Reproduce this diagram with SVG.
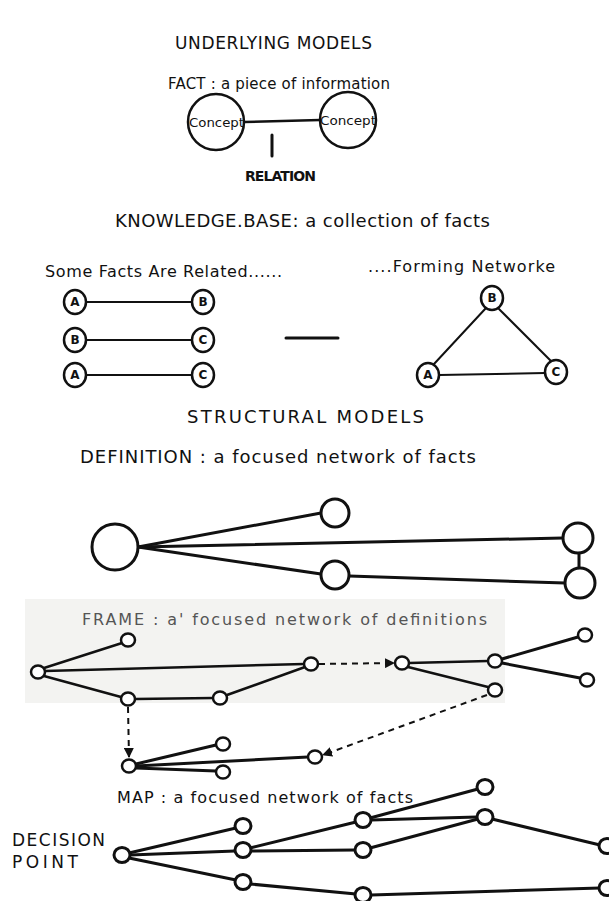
<svg xmlns="http://www.w3.org/2000/svg" width="609" height="901" viewBox="0 0 609 901">
  <style>
    .t { font-family: "DejaVu Sans", "Liberation Sans", sans-serif; fill: #111; }
    .h { font-size: 18px; }
    .s { font-size: 16px; }
    .lbl { font-size: 12px; font-weight: bold; text-anchor: middle; }
    .ln { stroke: #111; stroke-width: 2.5; fill: none; stroke-linecap: round; }
    .thin { stroke-width: 2; }
    .thick { stroke-width: 3; }
    .nd { fill: #fff; stroke: #111; stroke-width: 2.5; }
    .open { fill: none; }
    .big { stroke-width: 3; }
    .dash { stroke-dasharray: 6 5; stroke-width: 2; stroke-linecap: butt; }
  </style>
  <defs>
    <marker id="arrow" viewBox="0 0 10 10" refX="9" refY="5" markerWidth="5" markerHeight="5" orient="auto">
      <path d="M0,0 L10,5 L0,10 z" fill="#111"/>
    </marker>
  </defs>
  <rect width="609" height="901" fill="#fff"/>
  <!-- faint band behind the frame section -->
  <rect x="25" y="599" width="480" height="104" fill="#f3f3f1"/>

  <!-- headings -->
  <g id="headings">
    <text class="t" font-size="17" x="175" y="49" textLength="197" lengthAdjust="spacing">UNDERLYING MODELS</text>
    <text class="t" font-size="15" x="168" y="89" textLength="222" lengthAdjust="spacing">FACT : a piece of information</text>
    <text class="t" font-size="14" x="245" y="181" textLength="71" lengthAdjust="spacing" font-weight="bold">RELATION</text>
    <text class="t h" x="115" y="227" textLength="375" lengthAdjust="spacing">KNOWLEDGE.BASE: a collection of facts</text>
    <text class="t s" x="45" y="277" textLength="237" lengthAdjust="spacing">Some Facts Are Related......</text>
    <text class="t s" x="368" y="272" textLength="187" lengthAdjust="spacing">....Forming Networke</text>
    <text class="t h" x="187" y="423" textLength="237" lengthAdjust="spacing">STRUCTURAL MODELS</text>
    <text class="t h" x="80" y="463" textLength="396" lengthAdjust="spacing">DEFINITION : a focused network of facts</text>
    <text class="t s" x="82" y="625" textLength="405" lengthAdjust="spacing" style="fill:#555">FRAME : a' focused network of definitions</text>
    <text class="t s" x="117" y="803" textLength="296" lengthAdjust="spacing">MAP : a focused network of facts</text>
    <text class="t" font-size="17" x="12" y="846" textLength="93" lengthAdjust="spacing">DECISION</text>
    <text class="t" font-size="17" x="12" y="868" textLength="66" lengthAdjust="spacing">POINT</text>
  </g>

  <!-- connectors -->
  <g id="connectors">
    <!-- fact -->
    <line class="ln" x1="244" y1="122" x2="320" y2="120"/>
    <line class="ln thick" x1="272" y1="135" x2="272" y2="156"/>
    <!-- related facts -->
    <line class="ln thin" x1="86" y1="302" x2="192" y2="302"/>
    <line class="ln thin" x1="86" y1="340" x2="192" y2="340"/>
    <line class="ln thin" x1="86" y1="375" x2="192" y2="375"/>
    <line class="ln thick" x1="286" y1="338" x2="338" y2="338"/>
    <!-- network triangle -->
    <line class="ln thin" x1="486" y1="308" x2="434" y2="364"/>
    <line class="ln thin" x1="498" y1="308" x2="551" y2="361"/>
    <line class="ln thin" x1="439" y1="375" x2="545" y2="373"/>
    <!-- definition -->
    <line class="ln thick" x1="138" y1="547" x2="321" y2="513"/>
    <line class="ln thick" x1="138" y1="547" x2="563" y2="538"/>
    <line class="ln thick" x1="138" y1="547" x2="321" y2="574"/>
    <line class="ln thick" x1="349" y1="576" x2="565" y2="583"/>
    <line class="ln thick" x1="579" y1="553" x2="579" y2="568"/>
    <!-- frame -->
    <line class="ln" x1="44" y1="668" x2="122" y2="643"/>
    <line class="ln" x1="45" y1="671" x2="304" y2="664"/>
    <line class="ln" x1="44" y1="676" x2="121" y2="697"/>
    <line class="ln" x1="135" y1="699" x2="213" y2="698"/>
    <line class="ln" x1="227" y1="695" x2="305" y2="667"/>
    <line class="ln" x1="409" y1="663" x2="488" y2="661"/>
    <line class="ln" x1="408" y1="667" x2="488" y2="687"/>
    <line class="ln thick" x1="502" y1="659" x2="578" y2="637"/>
    <line class="ln thick" x1="502" y1="663" x2="580" y2="678"/>
    <line class="ln dash" x1="319" y1="664" x2="394" y2="663" marker-end="url(#arrow)"/>
    <line class="ln dash" x1="128" y1="707" x2="129" y2="757" marker-end="url(#arrow)"/>
    <line class="ln dash" x1="487" y1="695" x2="323" y2="755" marker-end="url(#arrow)"/>
    <line class="ln thick" x1="136" y1="764" x2="216" y2="745"/>
    <line class="ln thick" x1="136" y1="766" x2="308" y2="757"/>
    <line class="ln thick" x1="136" y1="768" x2="216" y2="771"/>
    <!-- map -->
    <line class="ln thick" x1="129" y1="853" x2="236" y2="828"/>
    <line class="ln thick" x1="130" y1="855" x2="235" y2="851"/>
    <line class="ln thick" x1="129" y1="858" x2="236" y2="880"/>
    <line class="ln thick" x1="250" y1="848" x2="356" y2="822"/>
    <line class="ln thick" x1="251" y1="851" x2="355" y2="850"/>
    <line class="ln thick" x1="370" y1="818" x2="478" y2="789"/>
    <line class="ln thick" x1="371" y1="820" x2="477" y2="817"/>
    <line class="ln thick" x1="370" y1="848" x2="478" y2="819"/>
    <line class="ln thick" x1="492" y1="819" x2="600" y2="845"/>
    <line class="ln thick" x1="250" y1="884" x2="356" y2="894"/>
    <line class="ln thick" x1="371" y1="895" x2="600" y2="888"/>
  </g>

  <!-- fact nodes -->
  <g id="concept-1"><circle class="nd open" cx="216" cy="122" r="28"/><text class="t" x="189" y="127" font-size="13" textLength="55" lengthAdjust="spacingAndGlyphs">Concept</text></g>
  <g id="concept-2"><circle class="nd open" cx="348" cy="120" r="28"/><text class="t" x="320" y="125" font-size="13" textLength="56" lengthAdjust="spacingAndGlyphs">Concept</text></g>

  <!-- related fact pairs -->
  <g id="kb-a1"><ellipse class="nd" cx="75" cy="302" rx="11" ry="12"/><text class="t lbl" x="75" y="306">A</text></g>
  <g id="kb-b1"><ellipse class="nd" cx="203" cy="302" rx="11" ry="12"/><text class="t lbl" x="203" y="306">B</text></g>
  <g id="kb-b2"><ellipse class="nd" cx="75" cy="340" rx="11" ry="12"/><text class="t lbl" x="75" y="344">B</text></g>
  <g id="kb-c2"><ellipse class="nd" cx="203" cy="340" rx="11" ry="12"/><text class="t lbl" x="203" y="344">C</text></g>
  <g id="kb-a3"><ellipse class="nd" cx="75" cy="375" rx="11" ry="12"/><text class="t lbl" x="75" y="379">A</text></g>
  <g id="kb-c3"><ellipse class="nd" cx="203" cy="375" rx="11" ry="12"/><text class="t lbl" x="203" y="379">C</text></g>

  <!-- network triangle nodes -->
  <g id="net-b"><ellipse class="nd" cx="492" cy="298" rx="11" ry="12"/><text class="t lbl" x="492" y="302">B</text></g>
  <g id="net-a"><ellipse class="nd" cx="428" cy="375" rx="11" ry="12"/><text class="t lbl" x="428" y="379">A</text></g>
  <g id="net-c"><ellipse class="nd" cx="556" cy="372" rx="11" ry="12"/><text class="t lbl" x="556" y="376">C</text></g>

  <!-- definition nodes -->
  <g id="def-root"><circle class="nd big" cx="115" cy="547" r="23"/></g>
  <g id="def-1"><circle class="nd big" cx="335" cy="513" r="14"/></g>
  <g id="def-2"><circle class="nd big" cx="335" cy="575" r="14"/></g>
  <g id="def-3"><circle class="nd big" cx="578" cy="538" r="15"/></g>
  <g id="def-4"><circle class="nd big" cx="580" cy="583" r="15"/></g>

  <!-- frame nodes -->
  <g id="fr-1"><ellipse class="nd" cx="38" cy="672" rx="7" ry="6.5"/></g>
  <g id="fr-2"><ellipse class="nd" cx="128" cy="640" rx="7" ry="6.5"/></g>
  <g id="fr-3"><ellipse class="nd" cx="128" cy="699" rx="7" ry="6.5"/></g>
  <g id="fr-4"><ellipse class="nd" cx="220" cy="698" rx="7" ry="6.5"/></g>
  <g id="fr-5"><ellipse class="nd" cx="311" cy="664" rx="7" ry="6.5"/></g>
  <g id="fr-6"><ellipse class="nd" cx="402" cy="663" rx="7" ry="6.5"/></g>
  <g id="fr-7"><ellipse class="nd" cx="495" cy="661" rx="7" ry="6.5"/></g>
  <g id="fr-8"><ellipse class="nd" cx="495" cy="690" rx="7" ry="6.5"/></g>
  <g id="fr-9"><ellipse class="nd" cx="585" cy="635" rx="7" ry="6.5"/></g>
  <g id="fr-10"><ellipse class="nd" cx="587" cy="680" rx="7" ry="6.5"/></g>
  <g id="fr-11"><ellipse class="nd" cx="129" cy="766" rx="7" ry="6.5"/></g>
  <g id="fr-12"><ellipse class="nd" cx="223" cy="744" rx="7" ry="6.5"/></g>
  <g id="fr-13"><ellipse class="nd" cx="223" cy="772" rx="7" ry="6.5"/></g>
  <g id="fr-14"><ellipse class="nd" cx="315" cy="757" rx="7" ry="6.5"/></g>

  <!-- map nodes -->
  <g id="map-dp"><ellipse class="nd big" cx="122" cy="855" rx="8" ry="7.5"/></g>
  <g id="map-1"><ellipse class="nd big" cx="243" cy="826" rx="8" ry="7.5"/></g>
  <g id="map-2"><ellipse class="nd big" cx="243" cy="850" rx="8" ry="7.5"/></g>
  <g id="map-3"><ellipse class="nd big" cx="243" cy="882" rx="8" ry="7.5"/></g>
  <g id="map-4"><ellipse class="nd big" cx="363" cy="820" rx="8" ry="7.5"/></g>
  <g id="map-5"><ellipse class="nd big" cx="363" cy="850" rx="8" ry="7.5"/></g>
  <g id="map-6"><ellipse class="nd big" cx="485" cy="787" rx="8" ry="7.5"/></g>
  <g id="map-7"><ellipse class="nd big" cx="485" cy="817" rx="8" ry="7.5"/></g>
  <g id="map-8"><ellipse class="nd big" cx="607" cy="846" rx="8" ry="7.5"/></g>
  <g id="map-9"><ellipse class="nd big" cx="363" cy="895" rx="8" ry="7.5"/></g>
  <g id="map-10"><ellipse class="nd big" cx="607" cy="888" rx="8" ry="7.5"/></g>
</svg>
